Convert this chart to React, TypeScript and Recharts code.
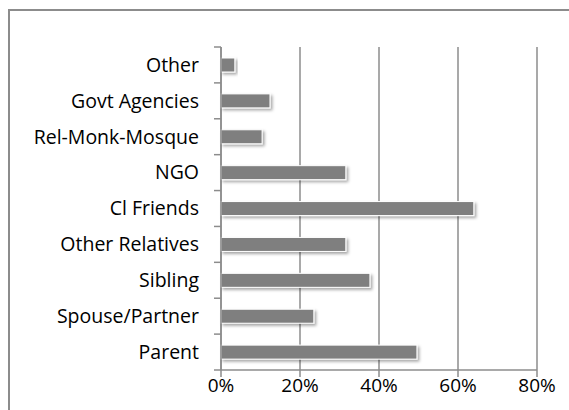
import React from 'react';
import { BarChart, Bar, XAxis, YAxis, CartesianGrid } from 'recharts';

const categories = ['Parent', 'Spouse/Partner', 'Sibling', 'Other Relatives', 'Cl Friends', 'NGO', 'Rel-Monk-Mosque', 'Govt Agencies', 'Other'];
const shares = [49.6, 23.5, 37.7, 31.6, 64, 31.6, 10.4, 12.4, 3.5];
const xTicks = [0, 20, 40, 60, 80];

const data = categories.map((name, i) => ({ name, value: shares[i] })).reverse();

const FONT = '"Open Sans", sans-serif';
const CHART_W = 569;
const CHART_H = 410;
const TOP = 47;
const BOTTOM = 40;
const AXIS_W = 221;
const BAND = (CHART_H - TOP - BOTTOM) / categories.length;
const GREY = '#8c8c8c';

// bar with a thin white rim and a soft drop shadow
const ShadowBar = (props: any) => {
  const { x, y, width, height } = props;
  if (!width || width <= 0) return null;
  return (
    <rect x={x} y={y} width={width} height={height} fill="#7f7f7f" stroke="#ffffff" strokeWidth={1} filter="url(#barShadow)" />
  );
};

// category label plus tick marks on the band boundaries
const CategoryTick = (props: any) => {
  const { y, payload, index } = props;
  const ax = AXIS_W;
  return (
    <g>
      {index === 0 && <line x1={ax - 7} x2={ax} y1={y - BAND / 2} y2={y - BAND / 2} stroke={GREY} strokeWidth={1.5} />}
      <line x1={ax - 7} x2={ax} y1={y + BAND / 2} y2={y + BAND / 2} stroke={GREY} strokeWidth={1.5} />
      <text x={ax - 22} y={y} dy="0.35em" textAnchor="end" fill="#000" fontSize={19.5} fontFamily={FONT}>
        {payload.value}
      </text>
    </g>
  );
};

export default function App() {
  return (
    <div style={{ position: 'fixed', left: 0, top: 0, width: CHART_W, height: CHART_H, background: '#fff', overflow: 'hidden' }}>
      <div style={{ position: 'absolute', left: 8, top: 9, width: 600, height: 450, borderLeft: `2px solid ${GREY}`, borderTop: `2px solid ${GREY}` }} />
      <BarChart
        width={CHART_W}
        height={CHART_H}
        data={data}
        layout="vertical"
        margin={{ top: TOP, right: 32, bottom: 0, left: 0 }}
        style={{ position: 'absolute', left: 0, top: 0 }}
      >
        <defs>
          <filter id="barShadow" x="-10%" y="-50%" width="130%" height="250%">
            <feDropShadow dx={2} dy={2} stdDeviation={1.5} floodColor="#000" floodOpacity={0.35} />
          </filter>
        </defs>
        <CartesianGrid horizontal={false} stroke={GREY} strokeWidth={1.5} />
        <XAxis
          type="number"
          domain={[0, 80]}
          ticks={xTicks}
          tickFormatter={(v: number) => `${v}%`}
          height={BOTTOM}
          axisLine={{ stroke: GREY, strokeWidth: 1.5 }}
          tickLine={{ stroke: GREY, strokeWidth: 1.5 }}
          tickSize={7}
          tick={{ fill: '#000', fontSize: 19, fontFamily: FONT }}
          interval={0}
        />
        <YAxis
          type="category"
          dataKey="name"
          width={AXIS_W}
          axisLine={{ stroke: GREY, strokeWidth: 1.5 }}
          tickLine={false}
          tickSize={7}
          tick={<CategoryTick />}
          interval={0}
        />
        <Bar dataKey="value" barSize={14} shape={<ShadowBar />} isAnimationActive={false} />
      </BarChart>
    </div>
  );
}
